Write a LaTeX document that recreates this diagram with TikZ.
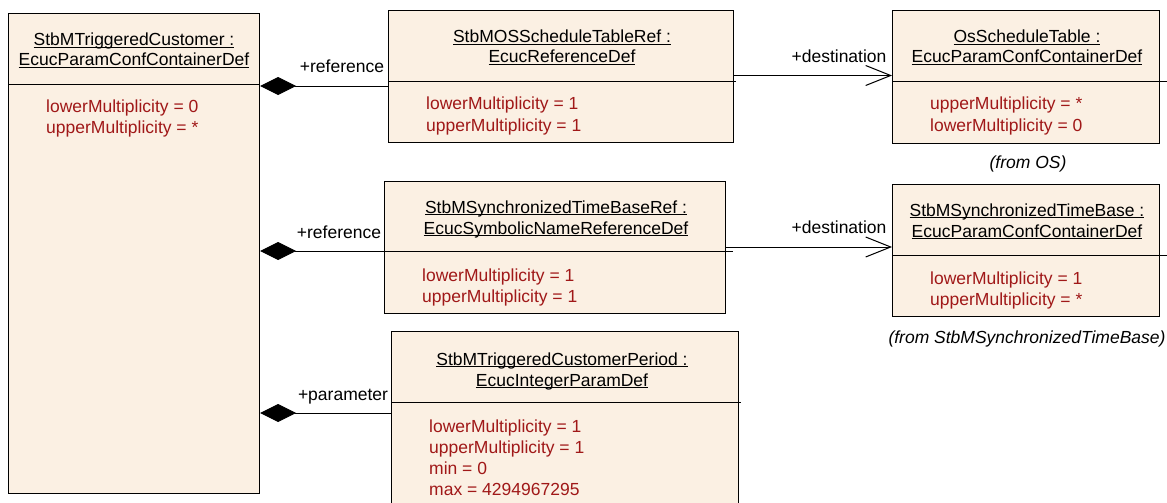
\documentclass[tikz,border=0pt]{standalone}
\usepackage{fontspec}
\setmainfont{Liberation Sans}
\usetikzlibrary{arrows.meta}
\definecolor{boxfill}{RGB}{251,240,227}
\definecolor{attrred}{RGB}{160,24,24}
\newsavebox\ulbox
\newcommand\ulx[1]{\sbox\ulbox{#1}\rlap{\rule[-1.8pt]{\wd\ulbox}{1pt}}\usebox\ulbox}
\begin{document}
\begin{tikzpicture}[x=1pt,y=-1pt,
  umlbox/.style={draw, line width=1.1pt, fill=boxfill, anchor=north west, inner sep=0pt},
  divider/.style={line width=1pt},
  txt/.style={inner sep=0pt, font=\fontsize{17.5}{21}\selectfont},
  hdr/.style={txt, anchor=base},
  attr/.style={txt, anchor=base west, text=attrred},
  lbl/.style={txt, anchor=base},
  note/.style={txt, anchor=base, font=\fontsize{17.5}{21}\selectfont\itshape},
  comp/.style={line width=1pt, {Diamond[length=36pt,width=18pt]}-},
  nav/.style={line width=1pt, -{Straight Barb[length=25pt,width=20pt,line width=1pt]}}]
\useasboundingbox (0,0) rectangle (1167,503);
\clip (0,0) rectangle (1167,503);

% boxes
\node[umlbox, minimum width=251pt, minimum height=480pt] (A) at (8,13) {};
\node[umlbox, minimum width=345pt, minimum height=132pt] (B) at (388,10) {};
\node[umlbox, minimum width=267pt, minimum height=133pt] (C) at (892,10) {};
\node[umlbox, minimum width=341pt, minimum height=132pt] (D) at (384,181) {};
\node[umlbox, minimum width=267pt, minimum height=132pt] (E) at (892,184) {};
\node[umlbox, minimum width=347pt, minimum height=190pt] (F) at (391,331) {};

% dividers
\draw[divider] (A.west |- 0,84.5) -- (A.east |- 0,84.5);
\draw[divider] (B.west |- 0,81) -- (736,81);
\draw[divider] (C.west |- 0,81) -- (1167,81);
\draw[divider] (D.west |- 0,251) -- (733,251);
\draw[divider] (E.west |- 0,255) -- (1167,255);
\draw[divider] (F.west |- 0,402) -- (741,402);

% headers
\node[hdr] (A1) at (134,46) {\ulx{StbMTriggeredCustomer :}};
\node[hdr] (A2) at (134,66) {\ulx{EcucParamConfContainerDef}};
\node[hdr] (B1) at (562,43) {\ulx{StbMOSScheduleTableRef :}};
\node[hdr] (B2) at (562,63) {\ulx{EcucReferenceDef}};
\node[hdr] (C1) at (1027,43) {\ulx{OsScheduleTable :}};
\node[hdr] (C2) at (1027,63) {\ulx{EcucParamConfContainerDef}};
\node[hdr] (D1) at (556,213) {\ulx{StbMSynchronizedTimeBaseRef :}};
\node[hdr] (D2) at (556,234) {\ulx{EcucSymbolicNameReferenceDef}};
\node[hdr] (E1) at (1027,216) {\ulx{StbMSynchronizedTimeBase :}};
\node[hdr] (E2) at (1027,237) {\ulx{EcucParamConfContainerDef}};
\node[hdr] (F1) at (562,365) {\ulx{StbMTriggeredCustomerPeriod :}};
\node[hdr] (F2) at (562,386) {\ulx{EcucIntegerParamDef}};

% attributes
\node[attr] (Aa1) at (46,112) {lowerMultiplicity = 0};
\node[attr] (Aa2) at (46,133) {upperMultiplicity = *};
\node[attr] (Ba1) at (426,110) {lowerMultiplicity = 1};
\node[attr] (Ba2) at (426,131) {upperMultiplicity = 1};
\node[attr] (Ca1) at (930,110) {upperMultiplicity = *};
\node[attr] (Ca2) at (930,131) {lowerMultiplicity = 0};
\node[attr] (Da1) at (422,281) {lowerMultiplicity = 1};
\node[attr] (Da2) at (422,302) {upperMultiplicity = 1};
\node[attr] (Ea1) at (930,284) {lowerMultiplicity = 1};
\node[attr] (Ea2) at (930,305) {upperMultiplicity = *};
\node[attr] (Fa1) at (429,432) {lowerMultiplicity = 1};
\node[attr] (Fa2) at (429,453) {upperMultiplicity = 1};
\node[attr] (Fa3) at (429,474) {min = 0};
\node[attr] (Fa4) at (429,495) {max = 4294967295};

% notes
\node[note] (nC) at (1028,168) {(from OS)};
\node[note] (nE) at (1027,343) {(from StbMSynchronizedTimeBase)};

% connectors
\coordinate (yAB) at (0,86);
\coordinate (yAD) at (0,251);
\coordinate (yAF) at (0,413);
\coordinate (yBC) at (0,75.5);
\coordinate (yDE) at (0,247);
\draw[comp] (A.east |- yAB) -- (B.west |- yAB);
\draw[comp] (A.east |- yAD) -- (D.west |- yAD);
\draw[comp] (A.east |- yAF) -- (F.west |- yAF);
\draw[nav] (B.east |- yBC) -- (C.west |- yBC);
\draw[nav] (D.east |- yDE) -- (E.west |- yDE);

% connector labels
\node[lbl] (lAB) at (342,73) {+reference};
\node[lbl] (lAD) at (339,238) {+reference};
\node[lbl] (lAF) at (343,400) {+parameter};
\node[lbl] (lBC) at (839,63) {+destination};
\node[lbl] (lDE) at (839,233) {+destination};
\end{tikzpicture}
\end{document}
